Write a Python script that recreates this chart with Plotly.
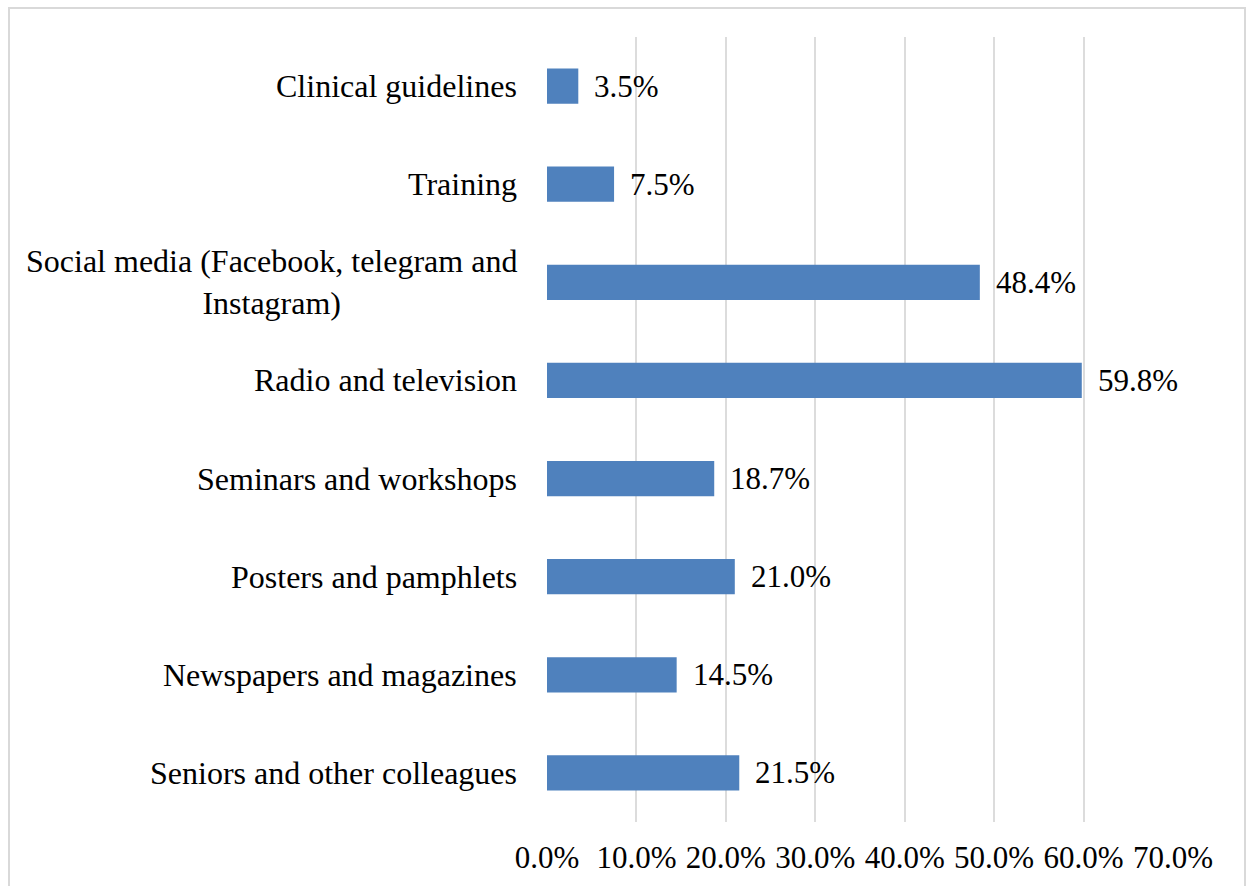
import plotly.graph_objects as go

categories = [
    "Seniors and other colleagues",
    "Newspapers and magazines",
    "Posters and pamphlets",
    "Seminars and workshops",
    "Radio and television",
    "Social media (Facebook, telegram and<br>Instagram)",
    "Training",
    "Clinical guidelines",
]
values = [21.5, 14.5, 21.0, 18.7, 59.8, 48.4, 7.5, 3.5]
tick_values = [0, 10, 20, 30, 40, 50, 60, 70]

FONT = "Liberation Serif, Times New Roman, serif"
W, H = 1250, 886
L, R, T, B = 547, 77, 37, 64

fig = go.Figure(
    go.Bar(
        x=values,
        y=list(range(len(categories))),
        orientation="h",
        marker=dict(color="#4f81bd", line=dict(width=0)),
        textposition="none",
        width=0.36,
        hoverinfo="x+y",
    )
)

annotations = []
for i, c in enumerate(categories):
    annotations.append(
        dict(
            x=0, xref="paper", y=i, yref="y",
            text=c, showarrow=False, xanchor="right", yanchor="middle",
            align="center", xshift=-28,
            font=dict(family=FONT, size=32, color="#000000"),
        )
    )
for i, v in enumerate(values):
    annotations.append(
        dict(
            x=v, xref="x", y=i, yref="y",
            text=f"{v:.1f}%", showarrow=False, xanchor="left", yanchor="middle",
            xshift=14,
            font=dict(family=FONT, size=31, color="#000000"),
        )
    )

pw = W - L - R
ph = H - T - B
shapes = [
    dict(
        type="rect", xref="paper", yref="paper",
        x0=(9 - L) / pw, x1=(1245 - L) / pw,
        y0=(H - 890 - B) / ph, y1=(H - 8 - B) / ph,
        line=dict(color="#d9d9d9", width=2), fillcolor="rgba(0,0,0,0)",
        layer="below",
    )
]

fig.update_layout(
    width=W, height=H,
    margin=dict(l=L, r=R, t=T, b=B),
    paper_bgcolor="white", plot_bgcolor="white",
    showlegend=False,
    annotations=annotations,
    shapes=shapes,
    font=dict(family=FONT, size=31, color="#000000"),
    xaxis=dict(
        range=[0, 70],
        tickvals=tick_values,
        ticktext=[f"{v:.1f}%" for v in tick_values],
        showgrid=True, gridcolor="#dcdcdc", gridwidth=2,
        zeroline=False, showline=False, ticks="",
        ticklabelstandoff=14,
        tickfont=dict(family=FONT, size=31, color="#000000"),
    ),
    yaxis=dict(
        range=[-0.5, len(categories) - 0.5],
        showticklabels=False, showgrid=False, zeroline=False, showline=False,
        ticks="",
    ),
)

fig.write_html(
    "out.html",
    config={"displayModeBar": False},
    post_script="document.body.style.margin='0';document.body.style.overflow='hidden';",
)
